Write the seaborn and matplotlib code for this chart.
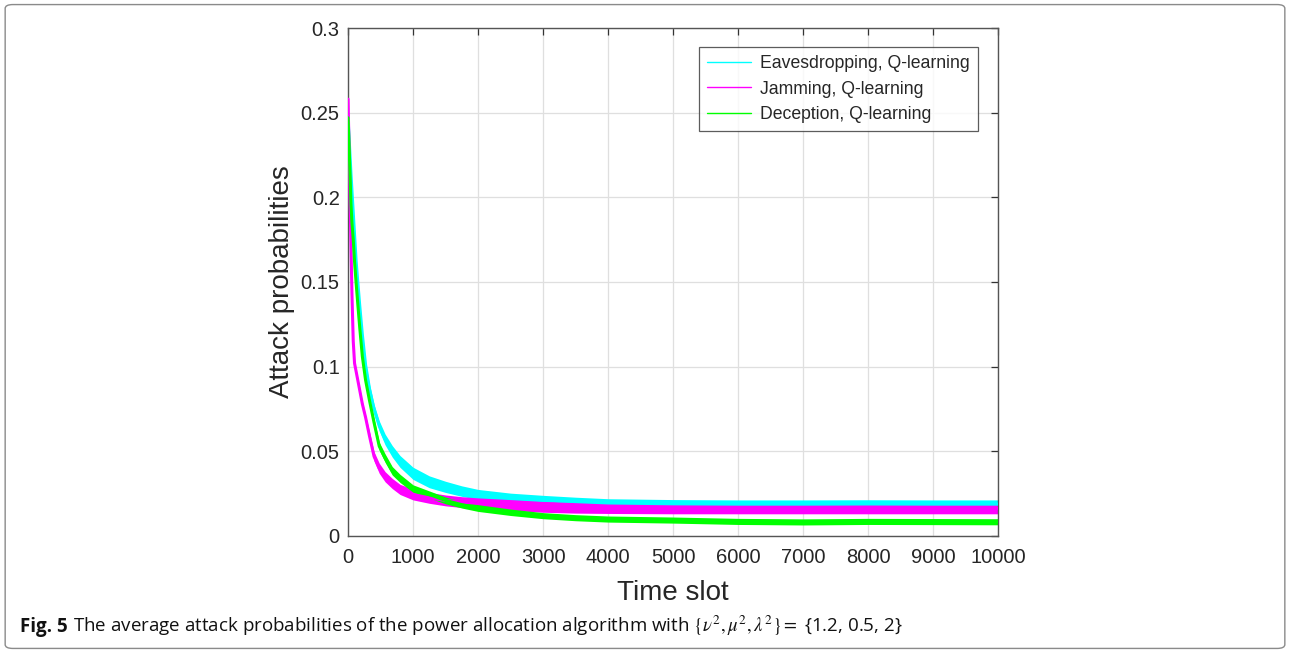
import numpy as np
import pandas as pd
import matplotlib
matplotlib.use("Agg")
import matplotlib.pyplot as plt
from matplotlib.patches import FancyBboxPatch
import seaborn as sns

time_slot = [0, 15, 30, 45, 60, 80, 100, 125, 150, 180, 220, 270, 330, 400, 480,
             570, 680, 800, 1000, 1250, 1500, 1750, 2000, 2500, 3000, 3500, 4000,
             5000, 6000, 7000, 8000, 9000, 10000]

# mean level of each (noisy) curve
eaves_mean = [0.247, 0.236, 0.225, 0.214, 0.204, 0.191, 0.178, 0.162, 0.150, 0.136,
              0.119, 0.101, 0.087, 0.075, 0.065, 0.057, 0.050, 0.044, 0.037, 0.032,
              0.029, 0.0265, 0.0245, 0.0225, 0.0213, 0.0203, 0.0195, 0.0190, 0.0188,
              0.0188, 0.0189, 0.0188, 0.0188]
jam_mean = [0.258, 0.230, 0.202, 0.172, 0.143, 0.115, 0.102, 0.097, 0.092, 0.086,
            0.078, 0.070, 0.059, 0.047, 0.040, 0.035, 0.031, 0.0275, 0.0245, 0.0225,
            0.021, 0.020, 0.0193, 0.0183, 0.0172, 0.0167, 0.0165, 0.0163, 0.0163,
            0.0163, 0.0163, 0.0163, 0.0163]
decep_mean = [0.247, 0.232, 0.214, 0.196, 0.185, 0.175, 0.162, 0.149, 0.137, 0.123,
              0.106, 0.092, 0.080, 0.067, 0.053, 0.046, 0.0385, 0.034, 0.028, 0.0245,
              0.021, 0.0185, 0.0165, 0.0140, 0.0120, 0.0108, 0.0100, 0.0094, 0.0086,
              0.0083, 0.0086, 0.0085, 0.0084]

# half width of the noise band around each curve
eaves_spread = [0.0015] * 12 + [0.0025, 0.0028, 0.003, 0.0032, 0.0034, 0.0035, 0.0036,
                                0.0035, 0.0033, 0.0031, 0.003, 0.0028, 0.0027, 0.0026,
                                0.0025] + [0.0025] * 6
jam_spread = [0.0015] * 12 + [0.0025, 0.0028, 0.003, 0.003, 0.003, 0.003, 0.0032,
                              0.0032, 0.0032, 0.0032, 0.0032, 0.0032, 0.0032, 0.0032,
                              0.0032] + [0.0032] * 6
decep_spread = [0.0012] * 12 + [0.002, 0.0022, 0.0024, 0.0025, 0.0025, 0.0024, 0.0022,
                                0.0021, 0.002, 0.002, 0.002, 0.0019, 0.0018, 0.0018,
                                0.0018] + [0.0018] * 6

series_names = ["Eavesdropping, Q-learning", "Jamming, Q-learning", "Deception, Q-learning"]
series_colors = ["#00ffff", "#ff00ff", "#00ff00"]

x_ticks = [0, 1000, 2000, 3000, 4000, 5000, 6000, 7000, 8000, 9000, 10000]
y_ticks = [0, 0.05, 0.1, 0.15, 0.2, 0.25, 0.3]
y_tick_labels = ["0", "0.05", "0.1", "0.15", "0.2", "0.25", "0.3"]

sns.set_theme(style="white")
plt.rcParams["font.family"] = ["Liberation Sans", "DejaVu Sans"]
plt.rcParams["mathtext.fontset"] = "stix"

fig = plt.figure(figsize=(12.9, 6.53), dpi=100)
ax = fig.add_axes([0.2698, 0.1792, 0.5039, 0.7779])

df = pd.DataFrame({
    "t": time_slot * 3,
    "p": eaves_mean + jam_mean + decep_mean,
    "spread": eaves_spread + jam_spread + decep_spread,
    "kind": [series_names[0]] * len(time_slot) + [series_names[1]] * len(time_slot)
            + [series_names[2]] * len(time_slot),
})

for name, color in zip(series_names, series_colors):
    sub = df[df["kind"] == name]
    ax.fill_between(sub["t"], sub["p"] - sub["spread"], sub["p"] + sub["spread"],
                    color=color, linewidth=0, zorder=2)
    sns.lineplot(data=sub, x="t", y="p", color=color, linewidth=2.2, label=name,
                 ax=ax, zorder=3)

ax.set_xlim(0, 10000)
ax.set_ylim(0, 0.3)
ax.set_xticks(x_ticks)
ax.set_xticklabels([str(v) for v in x_ticks])
ax.set_yticks(y_ticks)
ax.set_yticklabels(y_tick_labels)
ax.grid(True, color="#dfdfdf", linewidth=0.9)
ax.set_axisbelow(True)
for sp in ax.spines.values():
    sp.set_visible(True)
    sp.set_color("#555555")
    sp.set_linewidth(1.0)
ax.tick_params(axis="both", direction="in", length=5, width=0.9, color="#333333",
               labelsize=14.5, labelcolor="#262626", top=True, right=True)
ax.tick_params(axis="x", pad=9)
ax.tick_params(axis="y", pad=6)
ax.set_xlabel("Time slot", fontsize=20, color="#262626", labelpad=9)
ax.set_ylabel("Attack probabilities", fontsize=20, color="#262626", labelpad=4)

leg = ax.legend(loc="upper right", bbox_to_anchor=(0.969, 0.963), fontsize=12.7,
                frameon=True, fancybox=False, handlelength=2.5, borderpad=0.45,
                labelspacing=0.5, handletextpad=0.5, borderaxespad=0)
leg.get_frame().set_edgecolor("#333333")
leg.get_frame().set_linewidth(0.9)
for line in leg.get_lines():
    line.set_linewidth(1.0)

# caption
renderer = fig.canvas.get_renderer()
cap_y = 1 - 632 / 653
t1 = fig.text(20 / 1290, cap_y, "Fig. 5", fontsize=13.5, fontweight="bold",
              family=["Open Sans", "DejaVu Sans"], color="#111111", va="baseline")
bb = t1.get_window_extent(renderer)
fig.text(bb.x1 / 1290 + 5 / 1290, cap_y,
         r"The average attack probabilities of the power allocation algorithm with "
         r"$\{\nu^2, \mu^2, \lambda^2\} =$ {1.2, 0.5, 2}",
         fontsize=13.5, family=["Open Sans", "DejaVu Sans"], color="#111111", va="baseline")

fig.patches.append(FancyBboxPatch((0.004, 0.007), 0.992, 0.986,
                                  boxstyle="round,pad=0,rounding_size=0.006",
                                  transform=fig.transFigure, fill=False,
                                  edgecolor="#8a8a8a", linewidth=1.0))

fig.savefig("out.png", dpi=100)
